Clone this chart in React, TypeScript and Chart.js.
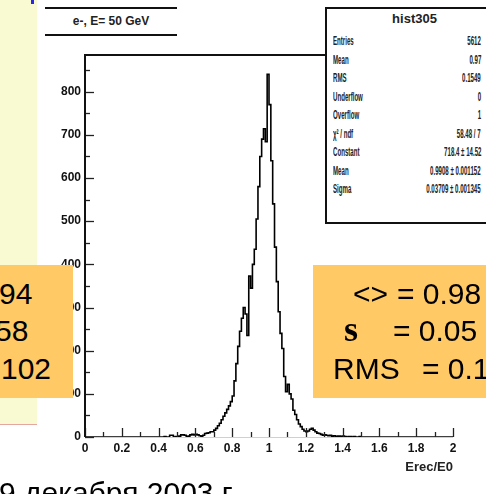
import React, { useEffect, useRef } from "react";
import { Chart, registerables } from "chart.js";

Chart.register(...registerables);

// ---- data ----
const binWidth = 0.01; // histogram bins of 0.01 from 0 to 2
const counts = [
  0, 0, 0, 0, 0, 0, 0, 0, 0, 0,
  0, 0, 0, 0, 0, 0, 0, 0, 0, 0,
  0, 0, 0, 0, 0, 0, 0, 0, 0, 0,
  0, 0, 0, 0, 0, 0, 0, 0, 0, 0,
  0, 0, 0, 1, 0, 0, 4, 4, 0, 1,
  0, 2, 5, 5, 4, 1, 2, 5, 6, 5,
  6, 5, 3, 2, 4, 8, 9, 10, 12, 12,
  16, 20, 26, 32, 40, 48, 56, 64, 72, 82,
  95, 130, 170, 210, 245, 275, 300, 285, 235, 373,
  345, 400, 435, 505, 580, 650, 690, 714, 684, 840,
  770, 640, 540, 440, 360, 290, 240, 205, 140, 105,
  122, 100, 88, 62, 52, 40, 30, 24, 18, 14,
  12, 14, 18, 20, 16, 12, 9, 8, 6, 4,
  5, 4, 3, 4, 2, 3, 1, 2, 2, 1,
  2, 1, 0, 1, 1, 0, 1, 0, 0, 1,
  0, 0, 0, 0, 0, 0, 0, 0, 0, 0,
  0, 0, 0, 0, 0, 0, 0, 0, 0, 0,
  0, 0, 0, 0, 0, 0, 0, 0, 0, 0,
  0, 0, 0, 0, 0, 0, 0, 0, 0, 0,
  0, 0, 0, 0, 0, 0, 0, 0, 0, 0,
];
const xMin = 0;
const xMax = 2;
const yMax = 885;
const xTickStep = 0.2;
const yTickStep = 100;

const histTitle = "e-, E= 50 GeV";
const xAxisTitle = "Erec/E0";
const statsTitle = "hist305";
const statsLabels = ["Entries", "Mean", "RMS", "Underflow", "Overflow", "χ² / ndf", "Constant", "Mean", "Sigma"];
const statsValues = ["5612", "0.97", "0.1549", "0", "1", "58.48 / 7", "718.4 ± 14.52", "0.9908 ± 0.001152", "0.03709 ± 0.001345"];

const leftBoxTexts = ["94", "58", "102"];
const rightBoxLabels = ["<>", "s", "RMS"];
const rightBoxValues = ["= 0.98", "= 0.05", "= 0.1"];
const footerText = "9 декабря 2003 г.";

const FONT = '"Liberation Sans", Arial, Helvetica, sans-serif';

const rootAxesPlugin = {
  id: "rootAxes",
  afterDatasetsDraw(chart: any) {
    const { ctx, chartArea } = chart;
    const { left, right, top, bottom } = chartArea;
    const xs = chart.scales.x;
    const ys = chart.scales.y;
    ctx.save();
    // faint baseline
    ctx.strokeStyle = "#d0d0d0";
    ctx.lineWidth = 1;
    ctx.beginPath();
    ctx.moveTo(left, bottom + 0.5);
    ctx.lineTo(right, bottom + 0.5);
    ctx.stroke();
    // x ticks (inward)
    ctx.strokeStyle = "#222";
    ctx.lineWidth = 1.3;
    for (let k = 0; k <= 20; k++) {
      const v = k * 0.1;
      const px = Math.round(xs.getPixelForValue(v)) + 0.5;
      const len = k % 2 === 0 ? 9 : 5;
      ctx.beginPath();
      ctx.moveTo(px, bottom);
      ctx.lineTo(px, bottom - len);
      ctx.stroke();
    }
    // y ticks (inward)
    for (let v = 0; v <= yMax; v += 50) {
      const py = Math.round(ys.getPixelForValue(v)) + 0.5;
      const len = v % 100 === 0 ? 9 : 5;
      ctx.beginPath();
      ctx.moveTo(left, py);
      ctx.lineTo(left + len, py);
      ctx.stroke();
    }
    // frame left & top
    ctx.strokeStyle = "#111";
    ctx.lineWidth = 2;
    ctx.beginPath();
    ctx.moveTo(left, bottom);
    ctx.lineTo(left, top);
    ctx.lineTo(right, top);
    ctx.stroke();
    ctx.restore();
  },
};

function HistChart() {
  const ref = useRef<HTMLCanvasElement>(null);
  useEffect(() => {
    if (!ref.current) return;
    const points = counts.map((c, i) => ({ x: xMin + i * binWidth, y: c }));
    points.push({ x: xMin + counts.length * binWidth, y: counts[counts.length - 1] });
    const tickFont = { family: FONT, size: 12, weight: "bold" as const };
    const chart = new Chart(ref.current, {
      type: "line",
      data: {
        datasets: [
          {
            data: points,
            stepped: "before",
            borderColor: "#000",
            borderWidth: 1.6,
            pointRadius: 0,
            fill: false,
          },
        ],
      },
      options: {
        animation: false,
        responsive: false,
        maintainAspectRatio: false,
        layout: { autoPadding: false, padding: { left: 0, top: 55, right: 33, bottom: 19 } },
        plugins: { legend: { display: false }, tooltip: { enabled: false }, title: { display: false } },
        scales: {
          x: {
            type: "linear",
            min: xMin,
            max: xMax,
            border: { display: false },
            grid: { display: false, drawTicks: false },
            ticks: {
              stepSize: xTickStep,
              padding: 4,
              autoSkip: false,
              maxRotation: 0,
              color: "#111",
              font: tickFont,
              callback: (v: any) => String(Number(Number(v).toFixed(1))),
            },
            title: {
              display: true,
              text: xAxisTitle,
              align: "end",
              padding: 0,
              color: "#222",
              font: { family: FONT, size: 13, weight: "bold" },
            },
            afterFit: (s: any) => {
              s.height = 38;
            },
          },
          y: {
            type: "linear",
            min: 0,
            max: yMax,
            border: { display: false },
            grid: { display: false, drawTicks: false },
            ticks: {
              stepSize: yTickStep,
              includeBounds: false,
              padding: 4,
              color: "#111",
              font: tickFont,
            },
            afterFit: (s: any) => {
              s.width = 85;
            },
          },
        },
      },
      plugins: [rootAxesPlugin],
    });
    return () => chart.destroy();
  }, []);
  return (
    <canvas
      ref={ref}
      width={486}
      height={494}
      style={{ position: "absolute", left: 0, top: 0, width: 486, height: 494 }}
    />
  );
}

const abs = (o: React.CSSProperties): React.CSSProperties => ({ position: "absolute", ...o });

export default function App() {
  const rowTops = [279, 316, 354];
  const leftBoxLefts = [-1, -5, 1];
  const rightLabelLefts = [353, 344, 333];
  const rightLabelFonts = [FONT, '"Liberation Serif", "Times New Roman", serif', FONT];
  const rightLabelSizes = [30, 36, 30];
  const rightLabelWeights = ["normal", "bold", "normal"];
  const rightValueLefts = [397, 393, 422];
  return (
    <div
      style={{
        position: "fixed",
        left: 0,
        top: 0,
        width: 486,
        height: 494,
        overflow: "hidden",
        background: "#fff",
        fontFamily: FONT,
      }}
    >
      {/* slide side strip */}
      <div style={abs({ left: 0, top: 0, width: 37, height: 424, background: "#fafad2", borderBottom: "1px solid #e4a79f" })} />
      <div style={abs({ left: 31, top: 0, width: 3, height: 4, background: "#2828e6" })} />

      <HistChart />

      {/* histogram title pave */}
      <div
        style={abs({
          left: 45,
          top: 7,
          width: 132,
          height: 25,
          borderTop: "2px solid #111",
          borderBottom: "2px solid #111",
          background: "#fff",
          textAlign: "center",
          lineHeight: "25px",
          fontSize: 12,
          fontWeight: "bold",
          color: "#222",
          whiteSpace: "nowrap",
        })}
      >
        {histTitle}
      </div>

      {/* stats box */}
      <div style={abs({ left: 325, top: 7, width: 175, height: 213, border: "2px solid #111", background: "#fff" })} />
      <div
        style={abs({
          left: 327,
          top: 11,
          width: 175,
          textAlign: "center",
          fontSize: 13,
          fontWeight: "bold",
          lineHeight: "16px",
          color: "#222",
          whiteSpace: "nowrap",
        })}
      >
        {statsTitle}
      </div>
      {statsLabels.map((lab, k) => (
        <React.Fragment key={k}>
          <div
            style={abs({
              left: 333,
              top: 33 + k * 18.5,
              height: 16,
              lineHeight: "16px",
              fontSize: 13,
              fontWeight: "bold",
              color: "#222",
              whiteSpace: "nowrap",
              transform: "scaleX(0.47)",
              transformOrigin: "left center",
            })}
          >
            {lab}
          </div>
          <div
            style={abs({
              right: 5,
              top: 33 + k * 18.5,
              height: 16,
              lineHeight: "16px",
              fontSize: 13,
              fontWeight: "bold",
              color: "#222",
              whiteSpace: "nowrap",
              textAlign: "right",
              transform: "scaleX(0.47)",
              transformOrigin: "right center",
            })}
          >
            {statsValues[k]}
          </div>
        </React.Fragment>
      ))}

      {/* slide overlay boxes */}
      <div style={abs({ left: 0, top: 265, width: 73, height: 133, background: "#ffc966", overflow: "hidden" })}>
        {leftBoxTexts.map((t, k) => (
          <span
            key={k}
            style={abs({ left: leftBoxLefts[k], top: rowTops[k] - 265, fontSize: 30, lineHeight: "30px", color: "#000", whiteSpace: "nowrap" })}
          >
            {t}
          </span>
        ))}
      </div>
      <div style={abs({ left: 313, top: 265, width: 200, height: 133, background: "#ffc966" })} />
      {rightBoxLabels.map((t, k) => (
        <React.Fragment key={k}>
          <span
            style={abs({
              left: rightLabelLefts[k],
              top: rowTops[k] + (k === 1 ? -2 : 0),
              fontSize: rightLabelSizes[k],
              fontFamily: rightLabelFonts[k],
              fontWeight: rightLabelWeights[k] as any,
              lineHeight: "30px",
              color: "#000",
              whiteSpace: "nowrap",
            })}
          >
            {t}
          </span>
          <span
            style={abs({ left: rightValueLefts[k], top: rowTops[k], fontSize: 30, lineHeight: "30px", color: "#000", whiteSpace: "nowrap" })}
          >
            {rightBoxValues[k]}
          </span>
        </React.Fragment>
      ))}

      {/* slide footer */}
      <div style={abs({ left: -1, top: 478, fontSize: 30, lineHeight: "30px", color: "#000", whiteSpace: "nowrap" })}>
        {footerText}
      </div>
    </div>
  );
}
